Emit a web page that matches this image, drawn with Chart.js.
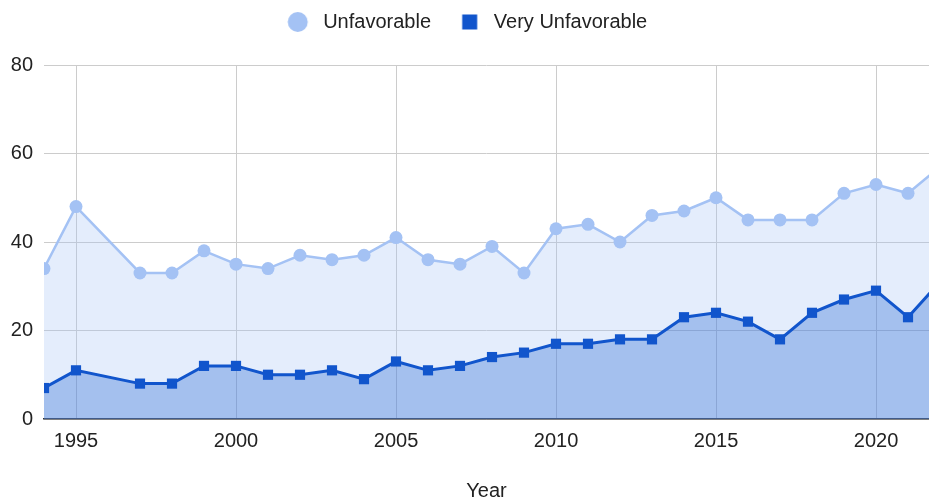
<!DOCTYPE html>
<html>
<head>
<meta charset="utf-8">
<script src="https://cdn.jsdelivr.net/npm/chart.js@4/dist/chart.umd.min.js"></script>
<style>
  html, body { margin: 0; padding: 0; background: #fff; overflow: hidden; }
  #wrap { width: 929px; height: 502px; position: relative; }
</style>
</head>
<body>
<div id="wrap"><canvas id="c"></canvas></div>
<script>
// Survey years and shares (%) of respondents
const years = [1994, 1995, 1997, 1998, 1999, 2000, 2001, 2002, 2003, 2004, 2005, 2006, 2007,
               2008, 2009, 2010, 2011, 2012, 2013, 2014, 2015, 2016, 2017, 2018, 2019, 2020, 2021, 2022];
const unfavorable = [34, 48, 33, 33, 38, 35, 34, 37, 36, 37, 41, 36, 35,
                     39, 33, 43, 44, 40, 46, 47, 50, 45, 45, 45, 51, 53, 51, 57];
const veryUnfavorable = [7, 11, 8, 8, 12, 12, 10, 10, 11, 9, 13, 11, 12,
                         14, 15, 17, 17, 18, 18, 23, 24, 22, 18, 24, 27, 29, 23, 31];
const xTicks = [1995, 2000, 2005, 2010, 2015, 2020];
const yTicks = [0, 20, 40, 60, 80];

const FONT = '"Liberation Sans", Arial, sans-serif';
const TEXT = '#222222';

function pts(values) {
  return years.map((y, i) => ({ x: y, y: values[i] }));
}

// legend markers: 28px cells, marker drawn at the given centre
function marker(shape, size, cx, color) {
  const cv = document.createElement('canvas');
  cv.width = 28; cv.height = 24;
  const g = cv.getContext('2d');
  g.fillStyle = color;
  if (shape === 'circle') {
    g.beginPath(); g.arc(cx, 12, size / 2, 0, Math.PI * 2); g.fill();
  } else {
    g.fillRect(cx - size / 2, 12 - size / 2, size, size);
  }
  return cv;
}
const legendMarks = [marker('circle', 20, 10.6, '#a4c2f4'), marker('rect', 15, 11.9, '#1155cc')];

// pull the legend row up towards the top edge after layout
const legendLift = {
  id: 'legendLift',
  afterLayout(chart) {
    const lg = chart.legend;
    if (lg) { lg.top -= 23; lg.bottom -= 23; }
  }
};

new Chart(document.getElementById('c'), {
  type: 'line',
  data: {
    datasets: [
      {
        label: 'Unfavorable',
        data: pts(unfavorable),
        borderColor: '#a4c2f4',
        backgroundColor: 'rgba(164,194,244,0.3)',
        pointBackgroundColor: '#a4c2f4',
        pointBorderWidth: 0,
        pointStyle: 'circle',
        pointRadius: 6.5,
        borderWidth: 2.5,
        fill: 'origin',
        tension: 0,
        clip: 0,
        order: 2
      },
      {
        label: 'Very Unfavorable',
        data: pts(veryUnfavorable),
        borderColor: '#1155cc',
        backgroundColor: 'rgba(17,85,204,0.3)',
        pointBackgroundColor: '#1155cc',
        pointBorderWidth: 0,
        pointStyle: 'rect',
        pointRadius: 7.2,
        borderWidth: 3,
        fill: 'origin',
        tension: 0,
        clip: 0,
        order: 1
      }
    ]
  },
  plugins: [legendLift],
  options: {
    responsive: true,
    maintainAspectRatio: false,
    animation: false,
    layout: { autoPadding: false, padding: { left: 7.4, right: 0, top: 0, bottom: -1 } },
    plugins: {
      tooltip: { enabled: false },
      legend: {
        position: 'top',
        labels: {
          usePointStyle: true,
          pointStyleWidth: 24,
          boxHeight: 20,
          padding: 28.8,
          color: TEXT,
          font: { family: FONT, size: 20 },
          generateLabels(chart) {
            return chart.data.datasets.map((ds, i) => ({
              text: ds.label,
              fillStyle: ds.borderColor,
              strokeStyle: ds.borderColor,
              lineWidth: 0,
              pointStyle: legendMarks[i],
              hidden: false,
              datasetIndex: i,
              fontColor: TEXT
            }));
          }
        }
      }
    },
    scales: {
      x: {
        type: 'linear',
        min: 1994,
        max: 2021.656,
        afterBuildTicks(scale) { scale.ticks = xTicks.map(v => ({ value: v })); },
        afterFit(scale) { scale.paddingLeft = 0; scale.paddingRight = 0; },
        grid: { color: '#cccccc', lineWidth: 1, drawTicks: false },
        border: { display: true, color: '#333333', width: 1.5 },
        ticks: {
          color: TEXT,
          font: { family: FONT, size: 20 },
          padding: 10.5,
          maxRotation: 0,
          autoSkip: false,
          callback: v => String(v)
        },
        title: {
          display: true,
          text: 'Year',
          color: TEXT,
          font: { family: FONT, size: 20 },
          padding: { top: 15, bottom: 0 }
        }
      },
      y: {
        min: 0,
        max: 80,
        afterBuildTicks(scale) { scale.ticks = yTicks.map(v => ({ value: v })); },
        afterFit(scale) { scale.width = 36.6; scale.paddingTop = 65; },
        grid: { color: '#cccccc', lineWidth: 1, drawTicks: false },
        border: { display: false },
        ticks: {
          color: TEXT,
          font: { family: FONT, size: 20 },
          padding: 11
        }
      }
    }
  }
});
</script>
</body>
</html>
